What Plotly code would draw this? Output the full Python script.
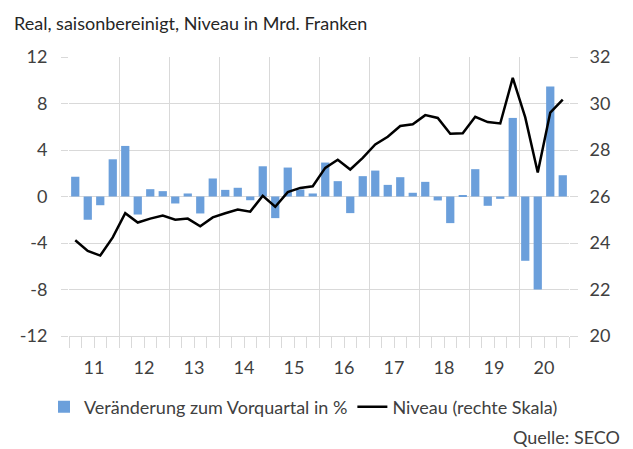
import plotly.graph_objects as go

years = ["11", "12", "13", "14", "15", "16", "17", "18", "19", "20"]
quarters = [f"20{y}Q{q}" for y in years for q in range(1, 5)]

# Veränderung zum Vorquartal in % (left axis)
changes = [1.70, -2.00, -0.75, 3.20,
           4.35, -1.55, 0.63, 0.46,
           -0.60, 0.26, -1.46, 1.55,
           0.57, 0.75, -0.32, 2.60,
           -1.86, 2.49, 0.60, 0.26,
           2.92, 1.32, -1.43, 1.75,
           2.23, 1.00, 1.66, 0.32,
           1.26, -0.34, -2.29, 0.11,
           2.35, -0.80, -0.20, 6.76,
           -5.53, -7.99, 9.46, 1.83]

# Niveau in Mrd. Franken (right axis)
level = [24.12, 23.66, 23.46, 24.24,
         25.28, 24.88, 25.05, 25.18,
         25.00, 25.05, 24.72, 25.10,
         25.28, 25.44, 25.35, 26.03,
         25.56, 26.19, 26.37, 26.44,
         27.23, 27.58, 27.16, 27.66,
         28.24, 28.57, 29.03, 29.11,
         29.50, 29.38, 28.70, 28.72,
         29.43, 29.20, 29.14, 31.10,
         29.40, 27.03, 29.61, 30.17]

left_ticks = [-12, -8, -4, 0, 4, 8, 12]
left_labels = ["-12", "-8", "-4", "0", "4", "8", "12"]
right_ticks = [20, 22, 24, 26, 28, 30, 32]

xpos = list(range(len(quarters)))
n = len(quarters)
year_bounds = [i - 0.5 for i in range(0, n + 1, 4)]
quarter_bounds = [i - 0.5 for i in range(0, n + 1)]
year_centers = [i + 1.5 for i in range(0, n, 4)]

FONT = "Lato"
GRID = "#d9d9d9"
TXT = "#404040"

fig = go.Figure()
fig.add_trace(go.Bar(
    x=xpos, y=changes, name="Veränderung zum Vorquartal in %",
    marker=dict(color="#6b9fdb", line=dict(width=0)),
    customdata=quarters, xaxis="x", yaxis="y",
))
fig.add_trace(go.Scatter(
    x=xpos, y=level, name="Niveau (rechte Skala)", mode="lines",
    line=dict(color="black", width=2.5),
    customdata=quarters, xaxis="x2", yaxis="y2",
))

fig.update_layout(
    width=625, height=441, autosize=False,
    margin=dict(l=61, r=64, t=49, b=113, autoexpand=False),
    paper_bgcolor="white", plot_bgcolor="white",
    font=dict(family=FONT, size=18, color=TXT),
    bargap=0.34,
    showlegend=True,
    legend=dict(
        orientation="h", x=-0.05, xanchor="left", y=-0.255, yanchor="middle",
        font=dict(family=FONT, size=18, color=TXT),
        bgcolor="rgba(0,0,0,0)", itemwidth=30, traceorder="normal",
    ),
    xaxis=dict(
        range=[-0.5, n - 0.5], tickmode="array", tickvals=year_bounds,
        ticktext=["" for _ in year_bounds], automargin=False,
        ticks="outside", ticklen=42, tickcolor=GRID, tickwidth=1,
        showgrid=True, gridcolor=GRID, gridwidth=1,
        showline=True, linecolor=GRID, linewidth=1, zeroline=False,
        minor=dict(tickmode="array", tickvals=quarter_bounds, ticks="outside",
                   ticklen=11, tickcolor=GRID, tickwidth=1, showgrid=False),
        fixedrange=True,
    ),
    xaxis2=dict(
        range=[-0.5, n - 0.5], overlaying="x", anchor="y", side="bottom",
        tickmode="array", tickvals=year_centers, ticktext=years, automargin=False,
        ticks="outside", ticklen=15, tickcolor="rgba(0,0,0,0)",
        showgrid=False, showline=False, zeroline=False,
        tickfont=dict(family=FONT, size=18, color=TXT),
    ),
    yaxis=dict(
        range=[-12, 12], tickmode="array", tickvals=left_ticks,
        ticktext=left_labels, automargin=False,
        ticks="outside", ticklen=7, tickcolor=GRID,
        showgrid=True, gridcolor=GRID, gridwidth=1,
        showline=False, zeroline=False, ticklabelstandoff=10,
        tickfont=dict(family=FONT, size=18, color=TXT),
    ),
    yaxis2=dict(
        range=[20, 32], tickmode="array", tickvals=right_ticks,
        overlaying="y", side="right", automargin=False,
        ticks="outside", ticklen=8, tickcolor=GRID,
        showgrid=False, showline=False, zeroline=False, ticklabelstandoff=8,
        tickfont=dict(family=FONT, size=18, color=TXT),
    ),
    annotations=[
        dict(text="Real, saisonbereinigt, Niveau in Mrd. Franken",
             xref="paper", yref="paper", x=-0.114, y=1.121,
             xanchor="left", yanchor="middle", showarrow=False,
             font=dict(family=FONT, size=18, color="#262626")),
        dict(text="Quelle: SECO",
             xref="paper", yref="paper", x=1.105, y=-0.362,
             xanchor="right", yanchor="middle", showarrow=False,
             font=dict(family=FONT, size=18, color=TXT)),
    ],
)

fig.write_html("out.html")
